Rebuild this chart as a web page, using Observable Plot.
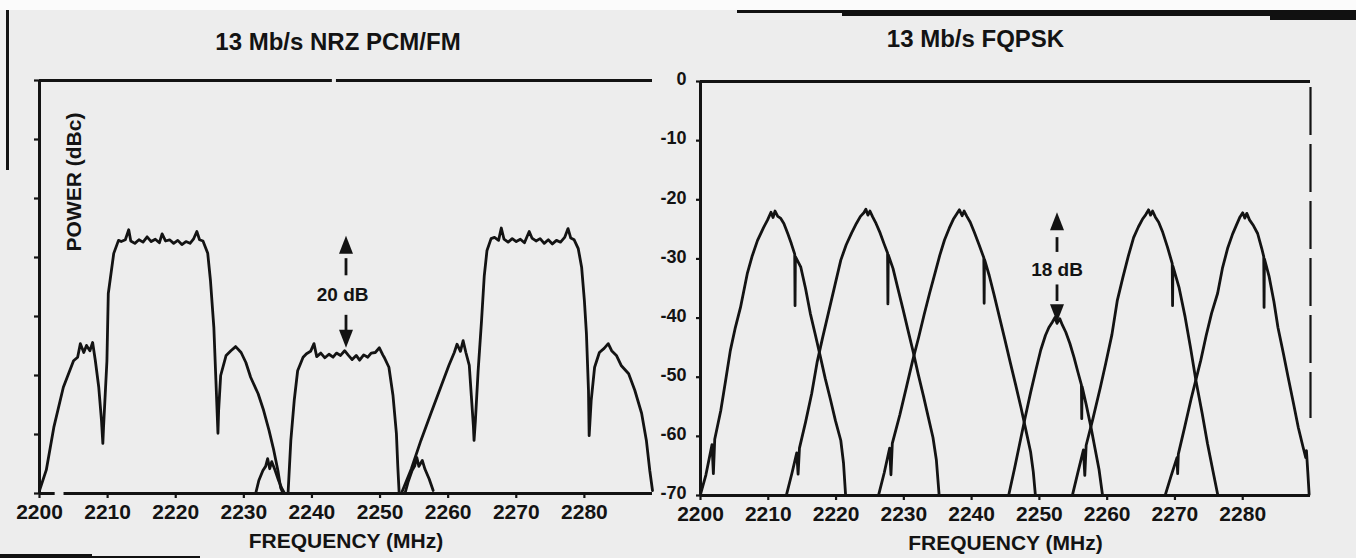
<!DOCTYPE html>
<html>
<head>
<meta charset="utf-8">
<script src="https://cdn.jsdelivr.net/npm/d3@7"></script>
<script src="https://cdn.jsdelivr.net/npm/@observablehq/plot@0.6"></script>
<style>
  html, body { margin: 0; padding: 0; background: #ededed; }
  #wrap { position: relative; width: 1356px; height: 558px; overflow: hidden; background: #ededed; }
  #left { position: absolute; left: 0; top: 0; }
  #right { position: absolute; left: 650px; top: 0; }
  .scan { position: absolute; }
</style>
</head>
<body>
<div id="wrap">
  <div id="left"></div>
  <div id="right"></div>
  <div class="scan" style="left:0;top:0;width:1356px;height:10px;background:#fbfbfb"></div>
  <div class="scan" style="left:6px;top:10px;width:3px;height:160px;background:#111"></div>
  <div class="scan" style="left:737px;top:10px;width:619px;height:3px;background:#111"></div>
  <div class="scan" style="left:842px;top:10px;width:514px;height:6px;background:#111"></div>
  <div class="scan" style="left:1270px;top:10px;width:86px;height:10px;background:#111"></div>
  <div class="scan" style="left:0;top:554px;width:92px;height:4px;background:#111"></div>
  <div class="scan" style="left:92px;top:556px;width:108px;height:2px;background:#111"></div>
</div>
<script>
// ---------------- DATA ----------------
const titles = ["13 Mb/s NRZ PCM/FM", "13 Mb/s FQPSK"];
const xLabel = "FREQUENCY (MHz)";
const yLabel = "POWER (dBc)";
const freqDomain = [2200, 2290];
const dbDomain = [-70, 0];
const freqTicks = [2200, 2210, 2220, 2230, 2240, 2250, 2260, 2270, 2280];
const dbTicks = [0, -10, -20, -30, -40, -50, -60, -70];

// NRZ PCM/FM spectrum traces [MHz, dBc]
const pcmTrace1 = [
  [2200.0,-69.5],[2201.0,-66.0],[2202.1,-58.8],[2203.5,-52.0],[2205.0,-47.5],[2205.6,-46.9],
  [2206.0,-44.6],[2206.5,-46.1],[2206.9,-44.9],[2207.4,-45.8],[2207.8,-44.4],[2208.2,-47.5],
  [2208.7,-52.0],[2209.1,-57.6],[2209.3,-61.5],[2209.4,-58.8],[2209.9,-47.5],[2210.1,-36.1],
  [2210.9,-29.3],[2211.6,-27.1],[2212.0,-27.3],[2212.6,-27.0],[2213.1,-25.3],[2213.4,-27.2],
  [2214.0,-27.6],[2214.6,-27.0],[2215.2,-27.4],[2215.8,-26.5],[2216.4,-27.3],[2217.0,-26.9],
  [2217.6,-27.5],[2218.0,-26.0],[2218.5,-27.2],[2219.1,-27.0],[2219.7,-27.6],[2220.3,-27.1],
  [2220.9,-27.8],[2221.5,-27.3],[2222.1,-27.6],[2222.6,-26.9],[2223.1,-25.6],[2223.5,-27.0],
  [2224.0,-27.2],[2224.7,-29.3],[2225.1,-33.9],[2225.6,-41.9],[2225.9,-50.8],[2226.2,-59.8],
  [2226.3,-55.9],[2226.6,-50.0],[2227.4,-46.6],[2228.1,-45.8],[2228.8,-45.1],[2229.6,-46.1],
  [2230.3,-47.8],[2231.0,-50.3],[2232.1,-53.1],[2232.9,-55.9],[2233.7,-59.3],[2234.4,-62.7],
  [2235.0,-66.1],[2235.4,-69.0],[2235.7,-69.8]
];
const pcmBump1 = [
  [2231.8,-69.7],[2232.2,-67.8],[2232.8,-66.1],[2233.2,-65.4],[2233.5,-64.1],[2233.8,-65.8],
  [2234.1,-64.6],[2234.6,-66.1],[2235.1,-67.8],[2235.6,-69.2],[2235.9,-69.8]
];
const pcmTrace2 = [
  [2236.5,-69.8],[2236.9,-61.0],[2237.4,-54.2],[2237.9,-49.2],[2238.7,-46.9],[2239.2,-46.3],
  [2239.8,-45.9],[2240.3,-44.6],[2240.7,-46.8],[2241.3,-46.2],[2241.9,-47.0],[2242.5,-46.4],
  [2243.1,-46.9],[2243.6,-46.2],[2244.2,-46.6],[2244.8,-45.8],[2245.3,-46.5],[2245.9,-47.3],
  [2246.5,-46.6],[2247.0,-47.4],[2247.6,-46.5],[2248.2,-46.9],[2248.7,-46.2],[2249.3,-46.1],
  [2249.9,-45.3],[2250.4,-46.5],[2250.6,-46.9],[2251.3,-48.6],[2251.9,-53.4],[2252.4,-59.8],
  [2252.6,-65.3],[2252.8,-69.8]
];
const pcmBump2 = [
  [2253.7,-69.8],[2254.1,-68.1],[2254.7,-66.1],[2255.1,-65.3],[2255.4,-63.9],[2255.7,-65.4],
  [2256.2,-64.4],[2256.6,-65.9],[2257.2,-67.5],[2257.8,-69.5]
];
const pcmTrace3 = [
  [2253.2,-69.8],[2254.6,-65.8],[2256.0,-61.0],[2257.5,-56.3],[2259.0,-51.7],[2260.1,-48.3],
  [2260.9,-46.1],[2261.3,-44.7],[2261.8,-45.9],[2262.2,-44.1],[2262.6,-46.1],[2263.1,-48.3],
  [2263.4,-53.4],[2263.7,-58.5],[2263.8,-61.0],[2264.0,-57.6],[2264.4,-49.2],[2264.9,-40.7],
  [2265.3,-33.1],[2265.7,-28.8],[2266.3,-26.8],[2266.8,-26.6],[2267.4,-27.1],[2267.8,-25.0],
  [2268.2,-26.9],[2268.8,-27.4],[2269.4,-26.8],[2270.0,-27.3],[2270.6,-26.9],[2271.2,-27.5],
  [2271.9,-25.6],[2272.3,-26.7],[2272.9,-27.2],[2273.5,-26.8],[2274.1,-27.6],[2274.7,-27.0],
  [2275.3,-27.7],[2275.9,-27.1],[2276.5,-27.4],[2277.1,-26.6],[2277.6,-25.1],[2278.0,-26.7],
  [2278.5,-27.0],[2279.1,-28.5],[2279.6,-31.7],[2280.0,-37.3],[2280.3,-42.9],[2280.6,-52.5],
  [2280.7,-60.2],[2281.0,-54.2],[2281.5,-48.6],[2282.2,-46.1],[2282.9,-45.4],[2283.5,-44.6],
  [2284.0,-45.8],[2284.7,-46.6],[2285.4,-48.3],[2286.5,-49.7],[2287.4,-52.5],[2288.4,-56.4],
  [2289.1,-61.0],[2289.6,-66.1],[2290.0,-69.5]
];

// FQPSK spectrum traces [MHz, dBc]
const fqpsk1 = [
  [2200.0,-69.8],[2200.8,-66.5],[2201.7,-61.4],[2201.9,-66.3],[2202.1,-60.5],[2203.0,-55.6],
  [2203.7,-50.6],[2204.4,-45.5],[2205.1,-41.8],[2205.9,-38.2],[2206.9,-32.5],[2207.6,-29.6],
  [2208.4,-26.9],[2209.3,-24.7],[2209.9,-23.4],[2210.4,-22.1],[2210.7,-23.0],[2211.0,-21.9],
  [2211.4,-22.8],[2211.8,-23.1],[2212.3,-24.0],[2212.9,-25.8],[2213.4,-27.4],[2213.9,-29.2],
  [2213.95,-37.9],[2214.0,-29.6],[2214.8,-31.4],[2215.5,-35.0],[2216.2,-39.2],[2216.9,-42.6],
  [2217.7,-46.6],[2218.4,-50.2],[2219.2,-53.9],[2219.9,-57.3],[2220.7,-60.7],[2221.1,-64.5],
  [2221.4,-69.8]
];
const fqpsk2 = [
  [2212.7,-69.8],[2213.5,-66.2],[2214.2,-62.8],[2214.4,-66.4],[2214.6,-62.0],[2215.5,-57.6],
  [2216.4,-52.8],[2217.2,-47.5],[2218.0,-43.4],[2218.9,-39.0],[2219.8,-34.6],[2220.7,-30.2],
  [2221.5,-27.6],[2222.3,-25.6],[2223.0,-24.0],[2223.6,-22.8],[2224.1,-22.2],[2224.4,-21.6],
  [2224.7,-22.6],[2225.0,-21.9],[2225.4,-22.9],[2225.9,-24.0],[2226.5,-25.6],[2227.1,-27.5],
  [2227.6,-29.0],[2227.65,-37.6],[2227.7,-29.3],[2228.4,-31.6],[2229.1,-34.9],[2229.9,-38.6],
  [2230.6,-42.0],[2231.4,-45.8],[2232.1,-49.4],[2232.9,-53.2],[2233.6,-56.7],[2234.3,-60.2],
  [2234.8,-64.0],[2235.2,-69.8]
];
const fqpsk3 = [
  [2226.3,-69.8],[2227.1,-66.2],[2227.9,-62.0],[2228.1,-66.5],[2228.3,-61.2],[2229.4,-56.4],
  [2230.4,-51.6],[2231.3,-47.2],[2232.2,-43.2],[2233.0,-39.4],[2233.8,-35.8],[2234.6,-32.4],
  [2235.3,-29.4],[2236.0,-26.8],[2236.7,-24.8],[2237.3,-23.3],[2237.8,-22.4],[2238.2,-21.7],
  [2238.6,-22.7],[2238.9,-21.9],[2239.3,-22.8],[2239.8,-23.8],[2240.4,-25.5],[2241.1,-27.6],
  [2241.8,-29.8],[2241.85,-37.5],[2241.9,-30.1],[2242.6,-32.8],[2243.3,-36.0],[2244.1,-39.8],
  [2244.9,-43.6],[2245.7,-47.5],[2246.5,-51.3],[2247.3,-55.2],[2248.0,-58.9],[2248.7,-62.6],
  [2249.1,-66.0],[2249.4,-69.8]
];
const fqpsk4 = [
  [2245.5,-69.8],[2246.3,-65.6],[2247.1,-61.2],[2247.9,-56.8],[2248.7,-52.6],[2249.5,-48.7],
  [2250.2,-45.4],[2250.9,-42.9],[2251.4,-41.6],[2251.9,-40.7],[2252.3,-39.9],[2252.6,-40.9],
  [2253.0,-40.1],[2253.4,-41.2],[2253.9,-42.4],[2254.5,-44.3],[2255.1,-46.6],[2255.7,-49.2],
  [2256.2,-51.3],[2256.25,-57.0],[2256.3,-51.6],[2256.9,-54.6],[2257.6,-58.4],[2258.2,-62.0],
  [2258.8,-65.6],[2259.3,-69.8]
];
const fqpsk5 = [
  [2254.9,-69.8],[2255.7,-66.0],[2256.5,-62.3],[2256.7,-66.6],[2256.9,-61.5],[2257.9,-57.0],
  [2259.0,-51.7],[2259.8,-47.6],[2260.7,-42.8],[2261.5,-37.0],[2262.3,-33.2],[2263.1,-29.6],
  [2263.9,-26.4],[2264.6,-24.6],[2265.2,-23.3],[2265.7,-22.5],[2266.1,-21.7],[2266.4,-22.6],
  [2266.7,-21.9],[2267.1,-22.9],[2267.6,-23.8],[2268.2,-25.5],[2268.9,-28.0],[2269.6,-30.8],
  [2269.65,-37.9],[2269.7,-31.2],[2270.6,-34.8],[2271.5,-39.8],[2272.3,-45.0],[2273.1,-50.6],
  [2274.0,-56.0],[2274.8,-61.2],[2275.6,-65.8],[2276.3,-69.8]
];
const fqpsk6 = [
  [2268.6,-69.8],[2269.4,-66.8],[2270.3,-63.6],[2270.4,-66.3],[2270.5,-63.0],[2271.4,-58.6],
  [2272.4,-53.6],[2273.8,-47.2],[2274.6,-43.0],[2275.4,-39.2],[2276.3,-35.8],[2277.0,-31.6],
  [2277.8,-28.1],[2278.5,-25.8],[2279.1,-24.2],[2279.6,-22.9],[2280.0,-22.2],[2280.3,-23.1],
  [2280.6,-22.3],[2281.0,-23.4],[2281.6,-24.4],[2282.2,-25.7],[2282.8,-28.2],[2283.1,-29.6],
  [2283.15,-38.2],[2283.2,-30.0],[2283.9,-33.0],[2284.6,-37.2],[2285.2,-41.6],[2286.0,-46.0],
  [2286.7,-50.0],[2287.5,-54.5],[2288.2,-58.5],[2288.9,-61.8],[2289.3,-63.6],[2289.4,-62.4],
  [2289.6,-66.0],[2289.8,-69.8]
];

// annotations (frequency, dBc)
const pcmArrow = {f: 2245.0, tip: -26.3, bottom: -45.3, text: "20 dB", textF: 2244.5, textDb: -36.4,
  shafts: [[-30.2, -33.1], [-39.8, -42.5]]};
const fqArrow = {f: 2252.6, tip: -22.1, bottom: -40.7, text: "18 dB", textF: 2252.6, textDb: -31.9,
  shafts: [[-26.4, -28.9], [-34.4, -37.2]]};
const powerLabelPos = {f: 2205.1, db: -17.2};
const rightBorder = {f: 2290, from: -1, to: -57};
// pieces of the scanned frame lines of the left panel (small breaks in the scan)
const pcmTopLine = [[2200, 2243.0], [2243.6, 2290]];
const pcmBottomLine = [[2200, 2202.3], [2203.6, 2290]];

// ---------------- DRAWING ----------------
const INK = "#131313";
const FONT = '"Liberation Sans", Arial, Helvetica, sans-serif';
const headUp = {draw(ctx) { ctx.moveTo(0, 0); ctx.lineTo(7, 18); ctx.lineTo(-7, 18); ctx.closePath(); }};
const headDown = {draw(ctx) { ctx.moveTo(0, 0); ctx.lineTo(7, -18); ctx.lineTo(-7, -18); ctx.closePath(); }};

function traceMarks(traces) {
  return traces.map(t => Plot.line(t, {x: d => d[0], y: d => d[1], stroke: INK, strokeWidth: 2.8,
    strokeLinejoin: "round", strokeLinecap: "round"}));
}
function arrowMarks(a) {
  return [
    Plot.dot([a], {x: "f", y: "tip", symbol: headUp, fill: INK, stroke: "none", r: 6}),
    Plot.dot([a], {x: "f", y: "bottom", symbol: headDown, fill: INK, stroke: "none", r: 6}),
    Plot.ruleX(a.shafts, {x: () => a.f, y1: d => d[0], y2: d => d[1], stroke: INK, strokeWidth: 2.8}),
    Plot.text([a], {x: "textF", y: "textDb", text: "text", fontSize: 19, fontWeight: "bold", fill: INK})
  ];
}
const baseStyle = {background: "transparent", overflow: "visible", fontFamily: FONT, fontWeight: "bold", color: INK};

const leftPlot = Plot.plot({
  width: 660, height: 558,
  marginLeft: 39, marginRight: 8, marginTop: 80, marginBottom: 65,
  style: baseStyle,
  x: {domain: freqDomain},
  y: {domain: dbDomain},
  marks: [
    Plot.axisX({ticks: freqTicks, tickFormat: d => String(d), tickSize: 5, tickPadding: 6, fontSize: 21,
      fontWeight: "bold", label: null, stroke: INK, strokeWidth: 2.2}),
    Plot.axisY({ticks: dbTicks, tickFormat: () => "", tickSize: 5, label: null, stroke: INK, strokeWidth: 2.2}),
    Plot.ruleY(pcmTopLine, {y: () => 0, x1: d => d[0], x2: d => d[1], stroke: INK, strokeWidth: 3}),
    Plot.ruleY(pcmBottomLine, {y: () => -70, x1: d => d[0], x2: d => d[1], stroke: INK, strokeWidth: 3}),
    Plot.ruleX([2200], {stroke: INK, strokeWidth: 3}),
    ...traceMarks([pcmTrace1, pcmBump1, pcmTrace2, pcmBump2, pcmTrace3]),
    ...arrowMarks(pcmArrow),
    Plot.text([yLabel], {x: () => powerLabelPos.f, y: () => powerLabelPos.db, text: d => d, rotate: -90,
      fontSize: 21, fontWeight: "bold", fill: INK}),
    Plot.text([titles[0]], {frameAnchor: "top", lineAnchor: "middle", dx: -8, dy: -38, text: d => d,
      fontSize: 24, fontWeight: "bold", fill: INK}),
    Plot.text([xLabel], {frameAnchor: "bottom", lineAnchor: "middle", dy: 48, text: d => d,
      fontSize: 21, fontWeight: "bold", fill: INK})
  ]
});
document.getElementById("left").appendChild(leftPlot);

const rightPlot = Plot.plot({
  width: 706, height: 558,
  marginLeft: 50, marginRight: 46, marginTop: 81, marginBottom: 63,
  style: baseStyle,
  x: {domain: freqDomain},
  y: {domain: dbDomain},
  marks: [
    Plot.axisX({ticks: freqTicks, tickFormat: d => String(d), tickSize: 5, tickPadding: 6, fontSize: 21,
      fontWeight: "bold", label: null, stroke: INK, strokeWidth: 2.2}),
    Plot.axisY({ticks: dbTicks, tickFormat: () => "", tickSize: 4, label: null, stroke: INK, strokeWidth: 2.2}),
    Plot.axisY({ticks: dbTicks, tickFormat: d => String(d), tickSize: 0, tickPadding: 14, fontSize: 18,
      dy: -2, fontWeight: "bold", label: null}),
    Plot.ruleY([0], {stroke: INK, strokeWidth: 3}),
    Plot.ruleY([-70], {stroke: INK, strokeWidth: 3}),
    Plot.ruleX([2200], {stroke: INK, strokeWidth: 3}),
    Plot.ruleX([rightBorder], {x: "f", y1: "from", y2: "to", stroke: INK, strokeWidth: 2.2, strokeDasharray: "48,9"}),
    ...traceMarks([fqpsk1, fqpsk2, fqpsk3, fqpsk4, fqpsk5, fqpsk6]),
    ...arrowMarks(fqArrow),
    Plot.text([titles[1]], {frameAnchor: "top", lineAnchor: "middle", dx: -30, dy: -42, text: d => d,
      fontSize: 24, fontWeight: "bold", fill: INK}),
    Plot.text([xLabel], {frameAnchor: "bottom", lineAnchor: "middle", dy: 48, text: d => d,
      fontSize: 21, fontWeight: "bold", fill: INK})
  ]
});
document.getElementById("right").appendChild(rightPlot);
</script>
</body>
</html>
